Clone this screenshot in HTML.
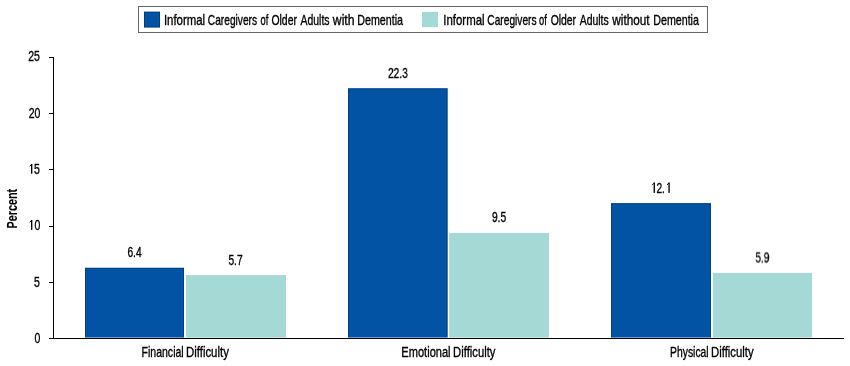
<!DOCTYPE html>
<html><head><meta charset="utf-8">
<style>
html,body{margin:0;padding:0;background:#fff;}
body{width:850px;height:366px;overflow:hidden;position:relative;}
svg{position:absolute;left:0;top:0;will-change:transform;}
text{font-family:"Liberation Sans",sans-serif;fill:#000;stroke:#000;stroke-width:0.35px;}
</style></head><body>
<svg width="850" height="366" viewBox="0 0 850 366" xmlns="http://www.w3.org/2000/svg">
<!-- legend -->
<rect x="138.5" y="6.5" width="569" height="26" fill="#fff" stroke="#666" stroke-width="1"/>
<rect x="144" y="11.6" width="16" height="16" fill="#003f80"/><rect x="145" y="12.6" width="14" height="14" fill="#0253a4"/>
<rect x="422" y="11.8" width="16" height="15.4" fill="#a4d9d6"/>
<g font-size="14.2"><text transform="translate(163.91,25) scale(0.805,1)">Informal</text><text transform="translate(207.84,25) scale(0.717,1)">Caregivers</text><text transform="translate(260.44,25) scale(0.659,1)">of</text><text transform="translate(271.43,25) scale(0.734,1)">Older</text><text transform="translate(300.55,25) scale(0.734,1)">Adults</text><text transform="translate(332.87,25) scale(0.858,1)">with</text><text transform="translate(357.35,25) scale(0.752,1)">Dementia</text></g>
<g font-size="14.2"><text transform="translate(443.31,25) scale(0.805,1)">Informal</text><text transform="translate(487.34,25) scale(0.717,1)">Caregivers</text><text transform="translate(539.04,25) scale(0.659,1)">of</text><text transform="translate(550.63,25) scale(0.734,1)">Older</text><text transform="translate(579.75,25) scale(0.734,1)">Adults</text><text transform="translate(612.27,25) scale(0.830,1)">without</text><text transform="translate(653.25,25) scale(0.752,1)">Dementia</text></g>
<!-- bars -->
<rect x="85" y="267.75" width="99.00" height="69.25" fill="#003f80"/><rect x="86" y="268.75" width="97.00" height="68.25" fill="#0253a4"/><rect x="85" y="337" width="99.00" height="1" fill="#6a9bd6"/>
<rect x="186.1" y="275.1" width="99.90" height="61.90" fill="#a4d9d6"/><rect x="186.1" y="337" width="99.90" height="1" fill="#c8ebe8"/>
<rect x="348" y="88.2" width="99.70" height="248.80" fill="#003f80"/><rect x="349" y="89.2" width="97.70" height="247.80" fill="#0253a4"/><rect x="348" y="337" width="99.70" height="1" fill="#6a9bd6"/>
<rect x="449.2" y="232.9" width="99.80" height="104.10" fill="#a4d9d6"/><rect x="449.2" y="337" width="99.80" height="1" fill="#c8ebe8"/>
<rect x="611" y="203.1" width="100.00" height="133.90" fill="#003f80"/><rect x="612" y="204.1" width="98.00" height="132.90" fill="#0253a4"/><rect x="611" y="337" width="100.00" height="1" fill="#6a9bd6"/>
<rect x="712.8" y="272.9" width="99.20" height="64.10" fill="#a4d9d6"/><rect x="712.8" y="337" width="99.20" height="1" fill="#c8ebe8"/>
<!-- axes -->
<rect x="53" y="57" width="1" height="281" fill="#000"/>
<rect x="49" y="338" width="795" height="1" fill="#000"/>
<rect x="49" y="57" width="4" height="1" fill="#000"/>
<rect x="49" y="113" width="4" height="1" fill="#000"/>
<rect x="49" y="169" width="4" height="1" fill="#000"/>
<rect x="49" y="226" width="4" height="1" fill="#000"/>
<rect x="49" y="282" width="4" height="1" fill="#000"/>
<!-- y labels -->
<g font-size="14.2" text-anchor="end" style="stroke-width:0.15px">
<text transform="translate(39.9,61.4) scale(0.74,1)">25</text>
<text transform="translate(40.4,117.8) scale(0.74,1)">20</text>
<text transform="translate(39.9,173.6) scale(0.74,1)"><tspan style="fill:none;stroke:none">1</tspan>5</text>
<text transform="translate(40.3,229.8) scale(0.74,1)"><tspan style="fill:none;stroke:none">1</tspan>0</text>
<text transform="translate(39.9,286.7) scale(0.74,1)">5</text>
<text transform="translate(40.3,342.5) scale(0.74,1)">0</text>
</g>
<text transform="translate(16.6,208.7) rotate(-90) scale(0.76,1)" font-size="14.2" font-weight="bold" text-anchor="middle" style="stroke-width:0.1px">Percent</text>
<!-- value labels -->
<g font-size="14.2" text-anchor="middle" style="stroke-width:0.15px">
<text transform="translate(134.5,257.3) scale(0.72,1)">6.4</text>
<text transform="translate(235.5,264.8) scale(0.72,1)">5.7</text>
<text transform="translate(397.9,78) scale(0.72,1)">22.3</text>
<text transform="translate(499,221.9) scale(0.72,1)">9.5</text>
<text transform="translate(660.7,192.7) scale(0.72,1)"><tspan style="fill:none;stroke:none">1</tspan>2.<tspan style="fill:none;stroke:none">1</tspan></text>
<text transform="translate(762.3,262.5) scale(0.72,1)">5.9</text>
</g>
<!-- category labels -->
<g font-size="14.5" style="stroke-width:0.45px">
<text transform="translate(141.57,356.8) scale(0.726,1)">Financial</text>
<text transform="translate(186.01,356.8) scale(0.786,1)">Difficulty</text>
<text transform="translate(401.34,356.8) scale(0.764,1)">Emotional</text>
<text transform="translate(453.12,356.8) scale(0.775,1)">Difficulty</text>
<text transform="translate(670.08,356.8) scale(0.715,1)">Physical</text>
<text transform="translate(711.02,356.8) scale(0.781,1)">Difficulty</text>
</g>
<!-- ones -->
<rect x="31.0" y="163.9" width="1.35" height="9.80" fill="#000"/><line x1="31.7" y1="164.35" x2="29.599999999999998" y2="166.25" stroke="#000" stroke-width="0.95"/>
<rect x="31.0" y="219.9" width="1.35" height="10.00" fill="#000"/><line x1="31.7" y1="220.35" x2="29.599999999999998" y2="222.25" stroke="#000" stroke-width="0.95"/>
<rect x="653.6" y="182.5" width="1.35" height="10.40" fill="#000"/><line x1="654.3000000000001" y1="182.95" x2="652.2" y2="184.85" stroke="#000" stroke-width="0.95"/>
<rect x="668.4" y="182.5" width="1.35" height="10.40" fill="#000"/><line x1="669.1" y1="182.95" x2="667.0" y2="184.85" stroke="#000" stroke-width="0.95"/>
</svg>
</body></html>
